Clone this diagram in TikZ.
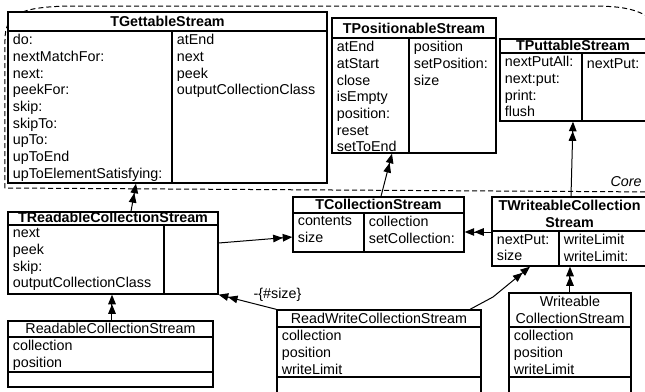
\documentclass[tikz,border=0pt]{standalone}
\usepackage{fontspec}
\setmainfont{Liberation Sans}
\usetikzlibrary{arrows.meta,fit}
\newcommand\umlfont{\fontsize{7.15}{8.35}\selectfont}

\tikzset{
  cls/.style={draw, fill=white, line width=0.65pt, inner sep=0pt},
  rule/.style={line width=0.65pt},
  ttl/.style={anchor=south, inner sep=0pt, align=center, font=\umlfont\bfseries},
  ttln/.style={anchor=south, inner sep=0pt, align=center, font=\umlfont},
  ops/.style={anchor=north west, inner sep=0pt, align=left, yshift=-1.5pt, execute at begin node=\strut},
  dbl/.style={line width=0.5pt, -{Triangle[length=4.8pt,width=3.8pt] Triangle[length=4.8pt,width=3.8pt]}},
  core/.style={dashed, dash pattern=on 2.5pt off 1.5pt, line width=0.5pt}
}

\begin{document}
\begin{tikzpicture}[x=0.5pt,y=-0.5pt,font=\umlfont]
\useasboundingbox (0,0) rectangle (645,392);
\clip (0,0) rectangle (645,392);
% the Core package
\draw[core] (5,188) -- (5,40) .. controls (5,14) and (20,7) .. (70,6) -- (590,6)
  .. controls (625,6) and (640,9) .. (660,25) -- (660,192) -- cycle;
\node[font=\umlfont\itshape, anchor=base east, inner sep=0pt] (core) at (642,186) {Core};

% TGettableStream
\node[cls, fit={(8,12)(327,183)}] (get) {};
\draw[rule] (8,31) -- (327,31) (172,31) -- (172,183);
\node[ttl] (get-t) at (167.5,27.5) {TGettableStream};
\node[ops] (get-l) at (12.5,31) {do:\\nextMatchFor:\\next:\\peekFor:\\skip:\\skipTo:\\upTo:\\upToEnd\\upToElementSatisfying:};
\node[ops] (get-r) at (176.5,31) {atEnd\\next\\peek\\outputCollectionClass};

% TPositionableStream
\node[cls, fit={(332,18)(496,153)}] (pos) {};
\draw[rule] (332,38) -- (496,38) (409,38) -- (409,153);
\node[ttl] (pos-t) at (414,34.5) {TPositionableStream};
\node[ops] (pos-l) at (336.5,38) {atEnd\\atStart\\close\\isEmpty\\position:\\reset\\setToEnd};
\node[ops] (pos-r) at (413.5,38) {position\\setPosition:\\size};

% TPuttableStream
\node[cls, fit={(500,39)(648,121)}] (put) {};
\draw[rule] (500,53) -- (648,53) (582,53) -- (582,121);
\node[ttl] (put-t) at (573,51) {TPuttableStream};
\node[ops] (put-l) at (504.5,53) {nextPutAll:\\next:put:\\print:\\flush};
\node[ops] (put-r) at (586.5,53) {nextPut:};

% TReadableCollectionStream
\node[cls, fit={(8,212)(218,294)}] (trcs) {};
\draw[rule] (8,225) -- (218,225) (164,225) -- (164,294);
\node[ttl] (trcs-t) at (113,223) {TReadableCollectionStream};
\node[ops] (trcs-l) at (12.5,225) {next\\peek\\skip:\\outputCollectionClass};

% ReadableCollectionStream
\node[cls, fit={(8,321)(213,387)}] (rcs) {};
\draw[rule] (8,337) -- (213,337) (8,372) -- (213,372);
\node[ttln] (rcs-t) at (110.5,334) {ReadableCollectionStream};
\node[ops] (rcs-l) at (12.5,337) {collection\\position};

% TCollectionStream
\node[cls, fit={(293,197)(464,252)}] (tcs) {};
\draw[rule] (293,213) -- (464,213) (364,213) -- (364,252);
\node[ttl] (tcs-t) at (378.5,210) {TCollectionStream};
\node[ops] (tcs-l) at (297.5,213) {contents\\size};
\node[ops] (tcs-r) at (368.5,213) {collection\\setCollection:};

% TWriteableCollectionStream
\node[cls, fit={(492,197)(647,266)}] (twcs) {};
\draw[rule] (492,231) -- (647,231) (559,231) -- (559,266);
\node[ttl] (twcs-t) at (569.5,228) {TWriteableCollection\\Stream};
\node[ops] (twcs-l) at (496.5,231) {nextPut:\\size};
\node[ops] (twcs-r) at (563.5,231) {writeLimit\\writeLimit:};

% ReadWriteCollectionStream
\node[cls, fit={(277,310)(481,400)}] (rwcs) {};
\draw[rule] (277,327) -- (481,327) (277,377) -- (481,377);
\node[ttln] (rwcs-t) at (379,324) {ReadWriteCollectionStream};
\node[ops] (rwcs-l) at (281.5,327) {collection\\position\\writeLimit};

% WriteableCollectionStream
\node[cls, fit={(509,293)(631,400)}] (wcs) {};
\draw[rule] (509,327) -- (631,327) (509,377) -- (631,377);
\node[ttln] (wcs-t) at (570,324) {Writeable\\CollectionStream};
\node[ops] (wcs-l) at (513.5,327) {collection\\position\\writeLimit};

% trait usage
\draw[dbl] (131,0 |- trcs.north) -- (136,0 |- get.south);
\draw[dbl] (381,0 |- tcs.north) -- (392,0 |- pos.south);
\draw[dbl] (571,0 |- twcs.north) -- (573,0 |- put.south);
\draw[dbl] (trcs.east |- 0,243) -- (tcs.west |- 0,237);
\draw[dbl] (twcs.west |- 0,232) -- (tcs.east |- 0,232);
\draw[dbl] (rwcs.north west) -- node[pos=0.42, anchor=south west, inner sep=0.5pt] (excl) {-\{\#size\}} (trcs.south east);
\draw[dbl] (470,0 |- rwcs.north) -- (493,297) -- (530,0 |- twcs.south);
\draw[dbl] (570,0 |- wcs.north) -- (570,0 |- twcs.south);
\draw[dbl] (112,0 |- rcs.north) -- (112,0 |- trcs.south);
\end{tikzpicture}
\end{document}
